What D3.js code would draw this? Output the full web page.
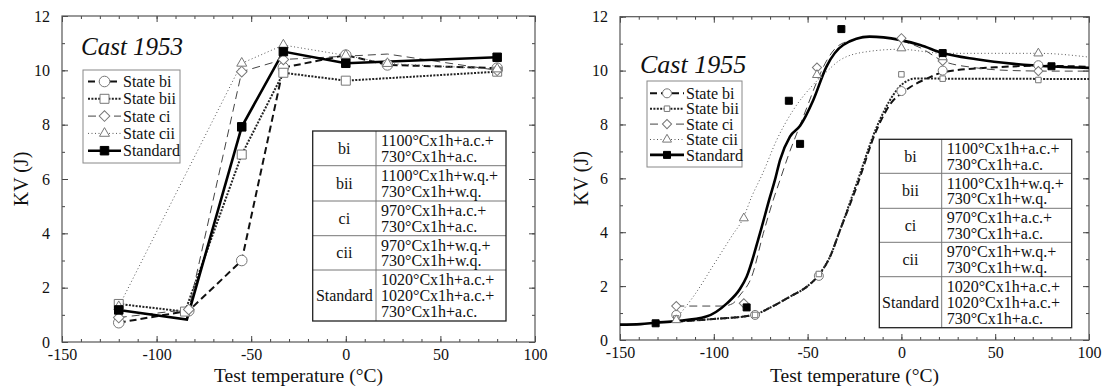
<!DOCTYPE html>
<meta charset="utf-8">
<head>
<style>
body { margin: 0; background: #fff; }
.tick line { stroke: #444; }
</style>
</head>
<body>
<div id="chart"></div>
<script src="https://d3js.org/d3.v7.min.js"></script>
<script>

// ---- data ----
var xTicks = [-150, -100, -50, 0, 50, 100];
var xTickLabels = ["-150", "-100", "-50", "0", "50", "100"];
var yTicks = [0, 2, 4, 6, 8, 10, 12];
var yTickLabels = ["0", "2", "4", "6", "8", "10", "12"];

var seriesKeys = ["bi", "bii", "ci", "cii", "std"];
var seriesNames = ["State bi", "State bii", "State ci", "State cii", "Standard"];

var tableStates = ["bi", "bii", "ci", "cii", "Standard"];
var tableTreatments = [
  ["1100°Cx1h+a.c.+", "730°Cx1h+a.c."],
  ["1100°Cx1h+w.q.+", "730°Cx1h+w.q."],
  ["970°Cx1h+a.c.+", "730°Cx1h+a.c."],
  ["970°Cx1h+w.q.+", "730°Cx1h+w.q."],
  ["1020°Cx1h+a.c.+", "1020°Cx1h+a.c.+", "730°Cx1h+a.c."]
];

// Cast 1953: [test temperature, KV]
var bi1953 = [[-120, 0.71], [-83, 1.15], [-55, 3.0], [-33, 10.1], [0, 10.56], [22, 10.2], [80, 10.08]];
var bii1953 = [[-120, 1.4], [-85, 1.12], [-55, 6.9], [-33, 9.91], [0, 9.62], [80, 9.95]];
var ci1953 = [[-120, 0.9], [-83, 1.2], [-55, 9.95], [-33, 10.4], [22, 10.6], [80, 10.0]];
var cii1953 = [[-120, 1.3], [-55, 10.26], [-33, 10.93], [0, 10.55], [22, 10.25], [80, 10.05]];
var std1953 = [[-120, 1.18], [-84, 0.83], [-55, 7.92], [-33, 10.69], [0, 10.26], [80, 10.48]];
// points of the 1953 lines that show no symbol in the figure
var hidden1953 = { std: [-84], ci: [22] };

// Cast 1955 measured points
var bi1955 = [[-120, 0.93], [-78, 0.93], [-44, 2.38], [0, 9.24], [22, 10.0], [73, 10.2]];
var bii1955 = [[-120, 0.8], [-78, 0.93], [-44, 2.45], [0, 9.86], [22, 9.7], [73, 9.65]];
var ci1955 = [[-120, 1.26], [-84, 1.36], [-45, 10.11], [0, 11.2], [22, 10.36], [73, 9.98]];
var cii1955 = [[-120, 0.74], [-84, 4.52], [-45, 9.84], [0, 10.83], [22, 10.5], [73, 10.64]];
var std1955 = [[-131, 0.62], [-82.5, 1.21], [-60, 8.88], [-54, 7.28], [-32, 11.54], [22, 10.65], [80, 10.16]];

// Cast 1955 fitted curves
var biCurve1955 = [[-120, 0.68], [-100, 0.78], [-79, 0.93], [-70, 1.2], [-59.4, 1.61], [-50, 2.0], [-44.3, 2.38],
  [-38, 3.1], [-32.7, 4.08], [-23.8, 5.7], [-13.2, 7.8], [-4.3, 8.9], [0, 9.15], [5, 9.4], [13.5, 9.7], [23, 9.95],
  [50, 10.12], [73, 10.18], [100, 10.14]];
var biiCurve1955 = [[-120, 0.7], [-100, 0.78], [-79, 0.93], [-70, 1.2], [-59.4, 1.61], [-50, 2.0], [-44.3, 2.4],
  [-38, 3.1], [-32.7, 4.08], [-23.8, 5.82], [-13.2, 7.9], [-4.3, 9.1], [0, 9.47], [8, 9.71], [23, 9.7], [100, 9.69]];
var ciCurve1955 = [[-120, 1.26], [-95, 1.26], [-90, 1.35], [-86, 1.67], [-79.8, 2.35], [-73.6, 3.96], [-68.3, 5.2],
  [-64.7, 5.94], [-60, 6.9], [-55, 7.8], [-50, 8.7], [-45, 9.6], [-40, 10.35], [-34, 10.9], [-25, 11.15],
  [-15, 11.25], [0, 11.1], [10, 10.85], [22, 10.36], [40, 10.1], [60, 10.0], [80, 9.98], [100, 9.98]];
var ciiCurve1955 = [[-120, 0.8], [-110, 1.7], [-100, 2.8], [-90, 3.9], [-84.6, 4.48], [-79.8, 5.32], [-73.9, 6.19],
  [-66.5, 7.42], [-57.6, 8.54], [-48, 9.4], [-40, 9.95], [-32.7, 10.39], [-18.5, 10.7], [-1, 10.79], [23, 10.64],
  [73, 10.64], [100, 10.5]];
var stdCurve1955 = [[-150, 0.57], [-139, 0.59], [-131, 0.64], [-120, 0.7], [-104, 0.87], [-93, 1.36], [-86, 1.9],
  [-82.5, 2.35], [-75.4, 3.96], [-70, 5.32], [-67.4, 5.94], [-64.7, 6.68], [-59.4, 7.55], [-54, 7.95], [-47, 8.9],
  [-40, 10.14], [-31, 10.95], [-17, 11.26], [-1, 11.14], [10, 10.95], [22, 10.65], [40, 10.42], [60, 10.25],
  [80, 10.15], [100, 10.1]];

// ---- styling ----
var FONT = "'Liberation Serif'";
var lineStyle = {
  bi:  { dash: "7,4",   width: 2,   color: "#111", marker: "circle" },
  bii: { dash: "2,1.4", width: 2,   color: "#222", marker: "square" },
  ci:  { dash: "8,5",   width: 1,   color: "#444", marker: "diamond" },
  cii: { dash: "1,2.5", width: 1,   color: "#555", marker: "triangle" },
  std: { dash: null,    width: 2.6, color: "#000", marker: "filled" }
};

var svg = d3.select("#chart").append("svg")
  .attr("width", 1102).attr("height", 387)
  .style("background", "#fff");

function markerPath(type, sz) {
  if (type == "circle") return d3.symbol().type(d3.symbolCircle).size(Math.PI * sz.circle * sz.circle)();
  if (type == "square") return d3.symbol().type(d3.symbolSquare).size(sz.square * sz.square)();
  if (type == "diamond") return d3.symbol().type(d3.symbolSquare).size(sz.diamond * sz.diamond)();
  if (type == "triangle") return d3.symbol().type(d3.symbolTriangle).size(Math.sqrt(3) / 4 * sz.triangle * sz.triangle)();
  return d3.symbol().type(d3.symbolSquare).size(sz.filled * sz.filled)();
}

function drawMarker(g, type, sz, px, py) {
  g.append("path")
    .attr("d", markerPath(type, sz))
    .attr("transform", "translate(" + px + "," + py + ")" + (type == "diamond" ? " rotate(45)" : ""))
    .attr("fill", type == "filled" ? "#000" : "#fff")
    .attr("stroke", type == "filled" ? "#000" : "#777")
    .attr("stroke-width", 1);
}

function txt(g, size) {
  return g.append("text").style("font-family", FONT).style("font-size", size + "px").style("fill", "#111");
}

function drawPanel(cfg) {
  var x = d3.scaleLinear().domain([-150, 100]).range([cfg.x0, cfg.x1]);
  var y = d3.scaleLinear().domain([0, 12]).range([cfg.y1, cfg.y0]);
  var g = svg.append("g");

  var fmtX = function(d) { return xTickLabels[xTicks.indexOf(d)]; };
  var fmtY = function(d) { return yTickLabels[yTicks.indexOf(d)]; };
  var noDomain = function(a) { a.select(".domain").remove(); };

  // minor ticks, all four sides
  g.append("g").attr("transform", "translate(0," + cfg.y1 + ")")
    .call(d3.axisBottom(x).ticks(25).tickSize(-3).tickFormat("")).call(noDomain);
  g.append("g").attr("transform", "translate(0," + cfg.y0 + ")")
    .call(d3.axisTop(x).ticks(25).tickSize(-3).tickFormat("")).call(noDomain);
  g.append("g").attr("transform", "translate(" + cfg.x0 + ",0)")
    .call(d3.axisLeft(y).ticks(12).tickSize(-3).tickFormat("")).call(noDomain);
  g.append("g").attr("transform", "translate(" + cfg.x1 + ",0)")
    .call(d3.axisRight(y).ticks(12).tickSize(-3).tickFormat("")).call(noDomain);

  // major ticks
  g.append("g").attr("transform", "translate(0," + cfg.y1 + ")")
    .call(d3.axisBottom(x).tickValues(xTicks).tickSize(-6).tickPadding(7).tickFormat(fmtX)).call(noDomain);
  g.append("g").attr("transform", "translate(0," + cfg.y0 + ")")
    .call(d3.axisTop(x).tickValues(xTicks).tickSize(-6).tickFormat("")).call(noDomain);
  g.append("g").attr("transform", "translate(" + cfg.x0 + ",0)")
    .call(d3.axisLeft(y).tickValues(yTicks).tickSize(-6).tickPadding(12).tickFormat(fmtY)).call(noDomain);
  g.append("g").attr("transform", "translate(" + cfg.x1 + ",0)")
    .call(d3.axisRight(y).tickValues(yTicks).tickSize(-6).tickFormat("")).call(noDomain);
  g.selectAll(".tick text")
    .style("font-family", FONT).style("font-size", "16px").style("fill", "#111");

  g.append("rect")
    .attr("x", cfg.x0).attr("y", cfg.y0)
    .attr("width", cfg.x1 - cfg.x0).attr("height", cfg.y1 - cfg.y0)
    .attr("fill", "none").attr("stroke", "#555").attr("stroke-width", 1.2);

  // axis titles
  txt(g, 19.5)
    .attr("x", (cfg.x0 + cfg.x1) / 2).attr("y", 382)
    .attr("text-anchor", "middle")
    .text("Test temperature (°C)");
  txt(g, 20)
    .attr("transform", "translate(" + cfg.ytitleX + "," + (cfg.y0 + cfg.y1) / 2 + ") rotate(-90)")
    .attr("text-anchor", "middle")
    .text("KV (J)");

  // panel title
  txt(g, cfg.titleSize)
    .attr("x", cfg.titleX).attr("y", cfg.titleY)
    .style("font-style", "italic")
    .text(cfg.title);

  // lines
  var line = d3.line().x(function(d) { return x(d[0]); }).y(function(d) { return y(d[1]); })
    .curve(cfg.smooth ? d3.curveMonotoneX : d3.curveLinear);
  seriesKeys.forEach(function(k) {
    var st = lineStyle[k];
    g.append("path")
      .datum(cfg.lines[k])
      .attr("d", line)
      .attr("fill", "none")
      .attr("stroke", st.color)
      .attr("stroke-width", st.width)
      .attr("stroke-dasharray", st.dash);
  });

  // markers
  seriesKeys.forEach(function(k) {
    var st = lineStyle[k];
    var skip = (cfg.hidden && cfg.hidden[k]) || [];
    cfg.points[k].forEach(function(d) {
      if (skip.indexOf(d[0]) >= 0) return;
      drawMarker(g, st.marker, cfg.sz, x(d[0]), y(d[1]));
    });
  });

  // legend
  var L = cfg.legend;
  g.append("rect")
    .attr("x", L.x).attr("y", L.y).attr("width", L.w).attr("height", L.h)
    .attr("fill", "#fff").attr("stroke", "#888").attr("stroke-width", 1);
  seriesKeys.forEach(function(k, i) {
    var st = lineStyle[k];
    var ry = L.row0 + i * L.step;
    g.append("line")
      .attr("x1", L.lx1).attr("x2", L.lx2).attr("y1", ry).attr("y2", ry)
      .attr("stroke", st.color).attr("stroke-width", st.width)
      .attr("stroke-dasharray", st.dash);
    drawMarker(g, st.marker, cfg.sz, (L.lx1 + L.lx2) / 2, ry);
    txt(g, 16)
      .attr("x", L.lx2 + 2).attr("y", ry).attr("dy", "0.35em")
      .text(seriesNames[i]);
  });

  // treatment table
  var T = cfg.table;
  var bottom = T.rows[T.rows.length - 1];
  g.append("rect")
    .attr("x", T.x0).attr("y", T.rows[0])
    .attr("width", T.x1 - T.x0).attr("height", bottom - T.rows[0])
    .attr("fill", "#fff");
  g.append("line")
    .attr("x1", T.xc).attr("x2", T.xc).attr("y1", T.rows[0]).attr("y2", bottom)
    .attr("stroke", "#777").attr("stroke-width", 1);
  T.rows.slice(1, -1).forEach(function(r) {
    g.append("line")
      .attr("x1", T.x0).attr("x2", T.x1).attr("y1", r).attr("y2", r)
      .attr("stroke", "#777").attr("stroke-width", 1);
  });
  g.append("rect")
    .attr("x", T.x0).attr("y", T.rows[0])
    .attr("width", T.x1 - T.x0).attr("height", bottom - T.rows[0])
    .attr("fill", "none").attr("stroke", "#222").attr("stroke-width", 1.3);
  tableStates.forEach(function(s, i) {
    var mid = (T.rows[i] + T.rows[i + 1]) / 2;
    txt(g, 16)
      .attr("x", (T.x0 + T.xc) / 2).attr("y", mid).attr("dy", "0.35em")
      .attr("text-anchor", "middle")
      .text(s);
    var lines = tableTreatments[i];
    lines.forEach(function(t, j) {
      txt(g, 16)
        .attr("x", T.xc + 5)
        .attr("y", mid + (j - (lines.length - 1) / 2) * 15.7).attr("dy", "0.35em")
        .text(t);
    });
  });
}

drawPanel({
  x0: 62, x1: 535, y0: 16, y1: 342,
  ytitleX: 28,
  title: "Cast 1953", titleX: 81, titleY: 55, titleSize: 25,
  smooth: false,
  lines: { bi: bi1953, bii: bii1953, ci: ci1953, cii: cii1953, std: std1953 },
  points: { bi: bi1953, bii: bii1953, ci: ci1953, cii: cii1953, std: std1953 },
  hidden: hidden1953,
  sz: { circle: 5.3, square: 9, diamond: 7.5, triangle: 10, filled: 8.5 },
  legend: { x: 83, y: 70, w: 97, h: 93, row0: 81.5, step: 17.3, lx1: 88, lx2: 121 },
  table: { x0: 312.7, xc: 376, x1: 506, rows: [131, 165.7, 201, 235.7, 270, 321] }
});

drawPanel({
  x0: 620, x1: 1089, y0: 16.7, y1: 340,
  ytitleX: 588,
  title: "Cast 1955", titleX: 640, titleY: 73, titleSize: 26,
  smooth: true,
  lines: { bi: biCurve1955, bii: biiCurve1955, ci: ciCurve1955, cii: ciiCurve1955, std: stdCurve1955 },
  points: { bi: bi1955, bii: bii1955, ci: ci1955, cii: cii1955, std: std1955 },
  sz: { circle: 4.5, square: 5.5, diamond: 6.5, triangle: 9, filled: 7 },
  legend: { x: 647, y: 81, w: 95, h: 86, row0: 93.3, step: 15.4, lx1: 650, lx2: 684 },
  table: { x0: 879.3, xc: 941.7, x1: 1071.7, rows: [139.3, 173.3, 208.3, 242.3, 276.7, 327.7] }
});

</script>
</body>
